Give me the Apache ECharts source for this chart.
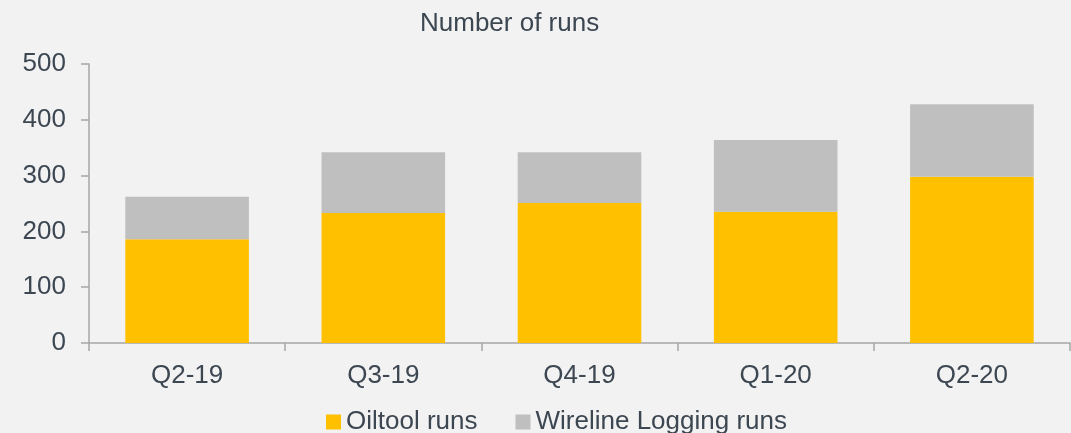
<!DOCTYPE html>
<html>
<head>
<meta charset="utf-8">
<title>Number of runs</title>
<script src="https://cdn.jsdelivr.net/npm/echarts@6/dist/echarts.min.js"></script>
<style>
html,body{margin:0;padding:0;background:#f2f2f2;}
#chart{width:1071px;height:433px;}
</style>
</head>
<body>
<div id="chart"></div>
<script>
// data
var quarters = ['Q2-19', 'Q3-19', 'Q4-19', 'Q1-20', 'Q2-20'];
var oiltoolRuns = [186, 233, 251, 235, 298];
var wirelineRuns = [76, 109, 91, 129, 130];

var txtColor = '#3c4752';
var lineColor = '#a6a6a6';
var font = 'Liberation Sans, Arial, sans-serif';

var chart = echarts.init(document.getElementById('chart'));
chart.setOption({
	backgroundColor: '#f2f2f2',
	animation: false,
	title: {
		text: 'Number of runs',
		left: 415,
		top: 6,
		textStyle: {color: txtColor, fontSize: 26, fontWeight: 'normal', fontFamily: font}
	},
	legend: {
		left: 326,
		top: 409,
		padding: 0,
		itemWidth: 15,
		itemHeight: 15,
		itemGap: 38,
		icon: 'rect',
		itemStyle: {borderWidth: 0},
		textStyle: {color: txtColor, fontSize: 26, fontFamily: font},
		data: ['Oiltool runs', 'Wireline Logging runs']
	},
	grid: {left: 89, right: 1, top: 64, bottom: 90},
	xAxis: {
		type: 'category',
		data: quarters,
		axisLine: {lineStyle: {color: lineColor, width: 1.5}},
		axisTick: {show: true, length: 8, lineStyle: {color: lineColor, width: 1.5}},
		axisLabel: {color: txtColor, fontSize: 26, fontFamily: font, margin: 20}
	},
	yAxis: {
		type: 'value',
		min: 0,
		max: 500,
		interval: 100,
		splitLine: {show: false},
		axisLine: {show: true, lineStyle: {color: lineColor, width: 1.5}},
		axisTick: {show: true, length: 8, lineStyle: {color: lineColor, width: 1.5}},
		axisLabel: {color: txtColor, fontSize: 26, fontFamily: font, margin: 23}
	},
	series: [
		{
			name: 'Oiltool runs',
			type: 'bar',
			stack: 'runs',
			barCategoryGap: '37%',
			data: oiltoolRuns,
			itemStyle: {color: '#ffc000'}
		},
		{
			name: 'Wireline Logging runs',
			type: 'bar',
			stack: 'runs',
			data: wirelineRuns,
			itemStyle: {color: '#bfbfbf'}
		}
	]
});
</script>
</body>
</html>
